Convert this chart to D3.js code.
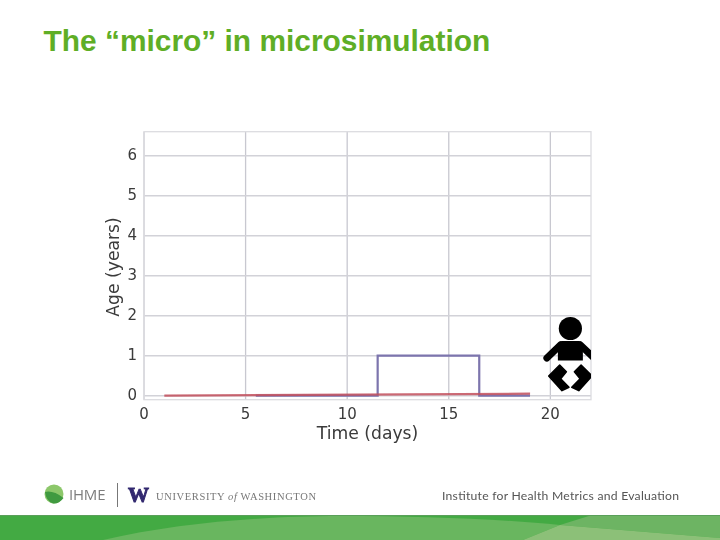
<!DOCTYPE html>
<html><head><meta charset="utf-8"><style>html,body{margin:0;background:#fff}svg{display:block}</style>
<script src="https://cdnjs.cloudflare.com/ajax/libs/d3/7.8.5/d3.min.js"></script></head><body><script>
const titleText = "The “micro” in microsimulation";
const xTicks = [0,5,10,15,20];
const yTicks = [0,1,2,3,4,5,6];
const xLabel = "Time (days)";
const yLabel = "Age (years)";
const redTime = [1,19];
const redAge = [0,0.05];
const purpleTime = [5.5,11.5,11.5,16.5,16.5,19];
const purpleAge = [0,0,1,1,0,0];
const iconAt = [21,1];

const svg = d3.select("body").append("svg").attr("width",720).attr("height",540);
const x = d3.scaleLinear().domain([0,22]).range([144,591]);
const y = d3.scaleLinear().domain([-0.1,6.6]).range([399.7,131.7]);
const defs = svg.append("defs");
defs.append("filter").attr("id","soft").append("feGaussianBlur").attr("stdDeviation",0.5);
defs.append("clipPath").attr("id","plot").append("rect")
  .attr("x",x.range()[0]).attr("y",y.range()[1])
  .attr("width",x.range()[1]-x.range()[0]).attr("height",y.range()[0]-y.range()[1]);

svg.append("text").attr("x",43.5).attr("y",50.5).attr("font-family","Liberation Sans")
  .attr("font-weight",700).attr("font-size",29.9).attr("fill","#5fae26").text(titleText);

const chart = svg.append("g").attr("filter","url(#soft)");
const grid = chart.append("g");
grid.selectAll("line.v").data(xTicks).join("line").attr("x1",d=>x(d)).attr("x2",d=>x(d))
  .attr("y1",y.range()[0]).attr("y2",y.range()[1]).attr("stroke","#c8c8d0").attr("stroke-width",1.3);
grid.selectAll("line.h").data(yTicks).join("line").attr("y1",d=>y(d)).attr("y2",d=>y(d))
  .attr("x1",x.range()[0]).attr("x2",x.range()[1]).attr("stroke","#d2d2d8").attr("stroke-width",1.4);
chart.append("rect").attr("x",144).attr("y",131.7).attr("width",447).attr("height",268)
  .attr("fill","none").attr("stroke","#dcdce0").attr("stroke-width",1.3);

const line = d3.line().x(d=>x(d[0])).y(d=>y(d[1]));
const purplePts = d3.zip(purpleTime,purpleAge);
const redPts = d3.zip(redTime,redAge);
chart.append("path").attr("d",line(purplePts)).attr("fill","none").attr("stroke","#7c74ad").attr("stroke-width",2.2);
chart.append("path").attr("d",line(redPts)).attr("fill","none").attr("stroke","#c24f5c").attr("stroke-width",2.2).attr("opacity",0.85);

const tickStyle = s=>s.attr("font-family","DejaVu Sans").attr("font-size",15).attr("fill","#3a3a3a");
chart.selectAll("text.x").data(xTicks).join("text").attr("x",d=>x(d)).attr("y",419)
  .attr("text-anchor","middle").call(tickStyle).text(d=>d);
chart.selectAll("text.y").data(yTicks).join("text").attr("x",137).attr("y",d=>y(d)+4.5)
  .attr("text-anchor","end").call(tickStyle).text(d=>d);
chart.append("text").attr("x",367.5).attr("y",439).attr("text-anchor","middle").call(tickStyle).attr("font-size",17.2).text(xLabel);
chart.append("text").attr("transform","translate(119,267) rotate(-90)").attr("text-anchor","middle").call(tickStyle).attr("font-size",17.2).text(yLabel);

// baby icon
const baby = chart.append("g").attr("clip-path","url(#plot)")
  .append("g").attr("transform",`translate(${x(iconAt[0])-0.3},${y(iconAt[1])-27.2})`);
baby.append("circle").attr("r",11.6).attr("fill","#000");
baby.append("path").attr("d","M-8,12.5 L8,12.5 Q12.5,12.5 12.5,17 L12.5,32 L-12.5,32 L-12.5,17 Q-12.5,12.5 -8,12.5Z").attr("fill","#000");
baby.append("path").attr("d","M-10,16.5 L-23.5,29.5 M10,16.5 L23.5,29.5").attr("stroke","#000").attr("stroke-width",7).attr("stroke-linecap","round");
const leg = "-10.7,36.5 -21.7,47.5 -8.4,62.2 -1.4,58.8 -9.7,50.2 -4,43.2";
[1,-1].forEach(s=>baby.append("polygon").attr("points",leg).attr("transform",`scale(${s},1)`)
  .attr("fill","#000").attr("stroke","#000").attr("stroke-width",1.5).attr("stroke-linejoin","round"));

// footer logos
const foot = svg.append("g").attr("filter","url(#soft)");
foot.append("circle").attr("cx",54).attr("cy",494).attr("r",9.5).attr("fill","#8cc76a");
foot.append("path").attr("d","M45,492 Q53,490 63.5,498 Q59,504 53,503.5 Q46,501 45,492Z").attr("fill","#3f9a3f");
foot.append("text").attr("x",69).attr("y",500).attr("font-family","Open Sans").attr("font-size",15).attr("letter-spacing",-0.2).attr("fill","#7d7d7d").text("IHME");
foot.append("line").attr("x1",117.5).attr("x2",117.5).attr("y1",483).attr("y2",507).attr("stroke","#777").attr("stroke-width",1);
foot.append("text").attr("x",128).attr("y",502).attr("font-family","Liberation Serif").attr("font-weight",700).attr("font-size",22).attr("fill","#33296f").attr("stroke","#33296f").attr("stroke-width",1).attr("textLength",21).attr("lengthAdjust","spacingAndGlyphs").text("W");
const uw = foot.append("text").attr("x",156).attr("y",499.5).attr("font-family","Liberation Serif").attr("font-size",10.5).attr("fill","#777").attr("textLength",160);
uw.append("tspan").text("UNIVERSITY ");
uw.append("tspan").attr("font-style","italic").text("of");
uw.append("tspan").text(" WASHINGTON");
foot.append("text").attr("x",442).attr("y",500).attr("font-family","Lato").attr("font-size",12.2).attr("fill","#555").attr("textLength",237).text("Institute for Health Metrics and Evaluation");

// footer band
const band = svg.append("g");
band.append("rect").attr("x",0).attr("y",515).attr("width",720).attr("height",25).attr("fill","#43aa43");
band.append("path").attr("d","M103,540 C180,522 270,516 340,516 C420,516 500,519 560,525 L523,540 Z").attr("fill","#69b65f");
band.append("path").attr("d","M592,515 L720,515 L720,538 L560,525 Z").attr("fill","#6db463");
band.append("path").attr("d","M560,525 L720,538 L720,540 L523,540 Z").attr("fill","#8cc078");
band.append("rect").attr("x",0).attr("y",515).attr("width",720).attr("height",1).attr("fill","#5a9f5a");
</script></body></html>
